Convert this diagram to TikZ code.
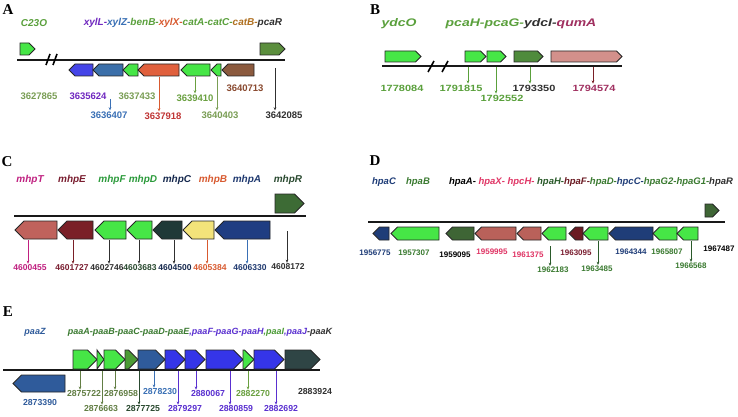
\documentclass[tikz,border=0pt]{standalone}
\usepackage{fontspec}
\usepackage{graphicx}
\setmainfont{Liberation Sans}
\newfontfamily\serifb{Liberation Serif}
\usetikzlibrary{arrows.meta}
% gene fills
\definecolor{lgreen}{HTML}{46E646}
\definecolor{olive}{HTML}{5B8E3D}
\definecolor{pblue}{HTML}{4545E8}
\definecolor{steel}{HTML}{3B6FA9}
\definecolor{ored}{HTML}{E0603D}
\definecolor{brownA}{HTML}{8B5A3E}
\definecolor{dgreenB}{HTML}{4F8B3C}
\definecolor{pinkB}{HTML}{D3908B}
\definecolor{rosy}{HTML}{C0625C}
\definecolor{dred}{HTML}{7A1F27}
\definecolor{slate}{HTML}{1F3937}
\definecolor{yellowC}{HTML}{F3E37A}
\definecolor{navy}{HTML}{1F3D82}
\definecolor{dgreenC}{HTML}{3D6B35}
\definecolor{navyD}{HTML}{1F3D78}
\definecolor{dgreenD}{HTML}{3E6535}
\definecolor{rosyD}{HTML}{B9615A}
\definecolor{dredD}{HTML}{6B1B23}
\definecolor{steelE}{HTML}{2F5B9B}
\definecolor{blueE}{HTML}{3535E8}
\definecolor{mgreenE}{HTML}{4B9B35}
\definecolor{slateE}{HTML}{2F4545}
% text colours
\definecolor{tgreen}{HTML}{5AA03C}
\definecolor{tolive}{HTML}{7A9E55}
\definecolor{tpurple}{HTML}{7028C0}
\definecolor{tblue}{HTML}{3A70B5}
\definecolor{tred}{HTML}{C03535}
\definecolor{torange}{HTML}{D85A30}
\definecolor{tbrown}{HTML}{8A4A30}
\definecolor{tcatB}{HTML}{B07020}
\definecolor{tdark}{HTML}{303030}
\definecolor{tmag}{HTML}{C02080}
\definecolor{tmaroon}{HTML}{A03060}
\definecolor{tdred}{HTML}{7A1E30}
\definecolor{tgreenC}{HTML}{2A9A3A}
\definecolor{tdgreen}{HTML}{2A4A30}
\definecolor{tnavy}{HTML}{203A70}
\definecolor{tgreenD}{HTML}{3A7A30}
\definecolor{tpink}{HTML}{E03565}
\definecolor{tpurpE}{HTML}{5A30D0}
\definecolor{tlgreen}{HTML}{6AA040}
\definecolor{aDG}{HTML}{2A5A2A}
\newcommand\geneR[5]{%
  \pgfmathsetmacro\gtip{min(0.5*(#4-#3),#2-#1)}%
  \filldraw[gene,fill=#5] (#1,#3) -- ({#2-\gtip},#3) -- (#2,{(#3+#4)/2}) -- ({#2-\gtip},#4) -- (#1,#4) -- cycle;}
\newcommand\geneL[5]{%
  \pgfmathsetmacro\gtip{min(0.5*(#4-#3),#2-#1)}%
  \filldraw[gene,fill=#5] (#2,#3) -- ({#1+\gtip},#3) -- (#1,{(#3+#4)/2}) -- ({#1+\gtip},#4) -- (#2,#4) -- cycle;}
\newcommand\bwide[2]{\scalebox{#1}[1]{#2}}
\begin{document}
\begin{tikzpicture}[x=1pt,y=-1pt,
  gene/.style={draw=black!85,line width=0.9pt,line join=miter},
  mline/.style={line width=2pt,black!90},
  brk/.style={line width=1.6pt,black},
  num/.style={font=\bfseries\fontsize{#1}{#1}\selectfont,inner sep=0pt},
  gn/.style={font=\bfseries\itshape\fontsize{#1}{#1}\selectfont,inner sep=0pt},
  plab/.style={font=\serifb\bfseries\fontsize{15}{15}\selectfont,inner sep=0pt},
  arr/.style={-{Stealth[length=3.2pt,width=2.6pt]},line width=0.7pt,shorten >=1pt}]
\useasboundingbox[fill=white] (0,0) rectangle (738,417);
%================ A
\node[plab] (pA) at (8,10) {A};
\node[gn=10] (a-c23o) at (34,23) {\textcolor{tgreen}{C23O}};
\node[gn=10] (a-title) at (183,23) {\textcolor{tpurple}{xylL-}\textcolor{tblue}{xylZ-}\textcolor{tgreen}{benB-}\textcolor{torange}{xylX-}\textcolor{tgreen}{catA-}\textcolor{tgreen}{catC-}\textcolor{tcatB}{catB-}\textcolor{tdark}{pcaR}};
\draw[mline] (17,60) -- (285,60);
\draw[brk] (46,65) -- (50,54);
\draw[brk] (53,65) -- (57,54);
\geneR{20}{35}{43}{55}{lgreen}
\geneR{260}{285}{43}{55}{olive}
\geneL{69}{93}{64}{76}{pblue}
\geneL{93}{123}{64}{76}{steel}
\geneL{123}{138}{64}{76}{lgreen}
\geneL{138}{179}{64}{76}{ored}
\geneL{181}{210}{64}{76}{lgreen}
\geneL{211}{221}{64}{76}{lgreen}
\geneL{222}{254}{64}{76}{brownA}
\node[num=9.5,text=tolive] (a1) at (39,96) {3627865};
\node[num=9.5,text=tpurple] (a2) at (88,96) {3635624};
\node[num=9.5,text=tolive] (a3) at (137,96) {3637433};
\node[num=9.5,text=tlgreen] (a4) at (195,98) {3639410};
\node[num=9.5,text=tbrown] (a5) at (245,88) {3640713};
\node[num=9.5,text=tblue] (a6) at (109,115) {3636407};
\node[num=9.5,text=tred] (a7) at (163,116) {3637918};
\node[num=9.5,text=tolive] (a8) at (220,115) {3640403};
\node[num=9.5,text=tdark] (a9) at (284,115) {3642085};
\draw[arr,color=tblue] (110,99) -- (110,0 |- a6.north);
\draw[arr,color=torange] (159,77) -- (159,0 |- a7.north);
\draw[arr,color=tlgreen] (195,77) -- (195,0 |- a4.north);
\draw[arr,color=tolive] (217,77) -- (217,0 |- a8.north);
\draw[arr,color=tdark] (275,68) -- (275,0 |- a9.north);
%================ B
\node[plab] (pB) at (375,10) {B};
\node[gn=11] (b-ydco) at (399,24) {\bwide{1.27}{\textcolor{tgreen}{ydcO}}};
\node[gn=11] (b-title) at (521,24) {\bwide{1.27}{\textcolor{tgreen}{pcaH-pcaG-}\textcolor{tdark}{ydcI-}\textcolor{tmaroon}{qumA}}};
\draw[mline] (382,66) -- (622,66);
\draw[brk] (428,72) -- (434,61);
\draw[brk] (442,72) -- (448,61);
\geneR{385}{421}{51}{62}{lgreen}
\geneR{465}{486}{51}{62}{lgreen}
\geneR{487}{506}{51}{62}{lgreen}
\geneR{514}{543}{51}{62}{dgreenB}
\geneR{551}{622}{51}{62}{pinkB}
\node[num=9,text=tgreen] (b1) at (402,88) {\bwide{1.22}{1778084}};
\node[num=9,text=tgreen] (b2) at (461,88) {\bwide{1.22}{1791815}};
\node[num=9,text=tgreen] (b3) at (502,98) {\bwide{1.22}{1792552}};
\node[num=9,text=tdark] (b4) at (534,88) {\bwide{1.22}{1793350}};
\node[num=9,text=tmaroon] (b5) at (594,88) {\bwide{1.22}{1794574}};
\draw[arr,color=tgreen] (468,67) -- (468,0 |- b2.north);
\draw[arr,color=tgreen] (496,67) -- (496,0 |- b3.north);
\draw[arr,color=tgreen] (530,67) -- (530,0 |- b4.north);
\draw[arr,color=dred] (593,67) -- (593,0 |- b5.north);
%================ C
\node[plab] (pC) at (7,162) {C};
\node[gn=10,text=tmag] (c-t) at (30,180) {mhpT};
\node[gn=10,text=tdred] (c-e) at (72,180) {mhpE};
\node[gn=10,text=tgreenC] (c-f) at (112,180) {mhpF};
\node[gn=10,text=tgreenC] (c-d) at (143,180) {mhpD};
\node[gn=10,text=tnavy!70!black] (c-c) at (177,180) {mhpC};
\node[gn=10,text=torange] (c-b) at (213,180) {mhpB};
\node[gn=10,text=tnavy] (c-a) at (247,180) {mhpA};
\node[gn=10,text=tdgreen] (c-r) at (288,180) {mhpR};
\draw[mline] (14,216) -- (306,216);
\geneR{275}{304}{194}{213}{dgreenC}
\geneL{15}{57}{221}{239}{rosy}
\geneL{58}{93}{221}{239}{dred}
\geneL{95}{126}{221}{239}{lgreen}
\geneL{127}{152}{221}{239}{lgreen}
\geneL{153}{182}{221}{239}{slate}
\geneL{183}{214}{221}{239}{yellowC}
\geneL{215}{270}{221}{239}{navy}
\node[num=8.5,text=tmag] (c1) at (30,268) {4600455};
\node[num=8.5,text=tdred] (c2) at (72,268) {4601727};
\node[num=8.5,text=tdark] (c3) at (107,268) {4602746};
\node[num=8.5,text=tdgreen] (c4) at (140,268) {4603683};
\node[num=8.5,text=tnavy!70!black] (c5) at (175,268) {4604500};
\node[num=8.5,text=torange] (c6) at (210,268) {4605384};
\node[num=8.5,text=tnavy] (c7) at (250,268) {4606330};
\node[num=8.5,text=tdark] (c8) at (288,267) {4608172};
\draw[arr,color=tmag] (28,240) -- (28,0 |- c1.north);
\draw[arr,color=dred] (73,240) -- (73,0 |- c2.north);
\draw[arr,color=tdark] (109,240) -- (109,0 |- c3.north);
\draw[arr,color=tdark] (139,240) -- (139,0 |- c4.north);
\draw[arr,color=tdark] (174,240) -- (174,0 |- c5.north);
\draw[arr,color=torange] (207,240) -- (207,0 |- c6.north);
\draw[arr,color=tblue] (247,240) -- (247,0 |- c7.north);
\draw[arr,color=tdark] (287,231) -- (287,0 |- c8.north);
%================ D
\node[plab] (pD) at (375,161) {D};
\node[gn=9.5,text=navyD] (d-c) at (384,182) {hpaC};
\node[gn=9.5,text=tgreenD] (d-b) at (418,182) {hpaB};
\node[gn=9.5] (d-title) at (591,182) {\textcolor{black}{hpaA- }\textcolor{tpink}{hpaX- hpcH- }\textcolor{aDG}{hpaH-}\textcolor{dredD}{hpaF-}\textcolor{tgreenD}{hpaD-}\textcolor{navyD}{hpcC-}\textcolor{tgreenD}{hpaG2-hpaG1-}\textcolor{tdark}{hpaR}};
\draw[mline] (368,222) -- (725,222);
\geneR{705}{719}{204}{217}{dgreenD}
\geneL{373}{389}{227}{240}{navyD}
\geneL{391}{439}{227}{240}{lgreen}
\geneL{446}{474}{227}{240}{dgreenD}
\geneL{475}{516}{227}{240}{rosyD}
\geneL{517}{541}{227}{240}{rosyD}
\geneL{542}{566}{227}{240}{lgreen}
\geneL{569}{583}{227}{240}{dredD}
\geneL{583}{608}{227}{240}{lgreen}
\geneL{609}{653}{227}{240}{navyD}
\geneL{653}{677}{227}{240}{lgreen}
\geneL{677}{698}{227}{240}{lgreen}
\node[num=8,text=navyD] (d1) at (375,253) {1956775};
\node[num=8,text=tgreenD] (d2) at (414,253) {1957307};
\node[num=8,text=black] (d3) at (455,255) {1959095};
\node[num=8,text=tpink] (d4) at (492,252) {1959995};
\node[num=8,text=tpink] (d5) at (528,255) {1961375};
\node[num=8,text=tgreenD] (d6) at (553,270) {1962183};
\node[num=8,text=tdred] (d7) at (576,253) {1963095};
\node[num=8,text=tgreenD] (d8) at (597,269) {1963485};
\node[num=8,text=navyD] (d9) at (631,252) {1964344};
\node[num=8,text=tgreenD] (d10) at (667,252) {1965807};
\node[num=8,text=tgreenD] (d11) at (691,266) {1966568};
\node[num=8,text=black] (d12) at (719,249) {1967487};
\draw[arr,color=aDG] (550,246) -- (550,0 |- d6.north);
\draw[arr,color=aDG] (598,241) -- (598,0 |- d8.north);
\draw[arr,color=aDG] (691,241) -- (691,0 |- d11.north);
%================ E
\node[plab] (pE) at (8,312) {E};
\node[gn=9,text=steelE] (e-z) at (35,332) {paaZ};
\node[gn=9] (e-title) at (200,332) {\textcolor{tgreenD}{paaA-paaB-paaC-paaD-paaE}\textcolor{tpurpE}{,paaF-paaG-paaH}\textcolor{mgreenE}{,paaI}\textcolor{tpurpE}{,paaJ}\textcolor{tdark}{-paaK}};
\draw[mline] (3,370) -- (320,370);
\geneR{73}{97}{350}{369}{lgreen}
\geneR{97}{104}{350}{369}{lgreen}
\geneR{104}{125}{350}{369}{lgreen}
\geneR{125}{138}{350}{369}{mgreenE}
\geneR{138}{165}{350}{369}{steelE}
\geneR{165}{185}{350}{369}{blueE}
\geneR{185}{205}{350}{369}{blueE}
\geneR{206}{243}{350}{369}{blueE}
\geneR{243}{254}{350}{369}{lgreen}
\geneR{254}{284}{350}{369}{blueE}
\geneR{285}{320}{350}{369}{slateE}
\geneL{13}{65}{375}{392}{steelE}
\node[num=8.7,text=steelE] (e0) at (40,403) {2873390};
\node[num=8.7,text=tolive!80!black] (e1) at (84,394) {2875722};
\node[num=8.7,text=tolive!80!black] (e2) at (101,409) {2876663};
\node[num=8.7,text=tolive!80!black] (e3) at (121,394) {2876958};
\node[num=8.7,text=tdgreen] (e4) at (143,409) {2877725};
\node[num=8.7,text=tblue] (e5) at (160,392) {2878230};
\node[num=8.7,text=tpurpE] (e6) at (185,409) {2879297};
\node[num=8.7,text=tpurpE] (e7) at (208,394) {2880067};
\node[num=8.7,text=tpurpE] (e8) at (236,409) {2880859};
\node[num=8.7,text=tlgreen] (e9) at (253,394) {2882270};
\node[num=8.7,text=tpurpE] (e10) at (281,409) {2882692};
\node[num=8.7,text=tdark] (e11) at (315,392) {2883924};
\draw[arr,color=tolive!80!black] (80,371) -- (80,0 |- e1.north);
\draw[arr,color=tolive!80!black] (102,371) -- (102,0 |- e2.north);
\draw[arr,color=tolive!80!black] (115,371) -- (115,0 |- e3.north);
\draw[arr,color=tdgreen] (139,371) -- (139,0 |- e4.north);
\draw[arr,color=tblue] (154,371) -- (154,0 |- e5.north);
\draw[arr,color=tpurpE] (178,371) -- (178,0 |- e6.north);
\draw[arr,color=tpurpE] (196,371) -- (196,0 |- e7.north);
\draw[arr,color=tpurpE] (230,371) -- (230,0 |- e8.north);
\draw[arr,color=tlgreen] (248,371) -- (248,0 |- e9.north);
\draw[arr,color=tpurpE] (276,371) -- (276,0 |- e10.north);
\end{tikzpicture}
\end{document}
